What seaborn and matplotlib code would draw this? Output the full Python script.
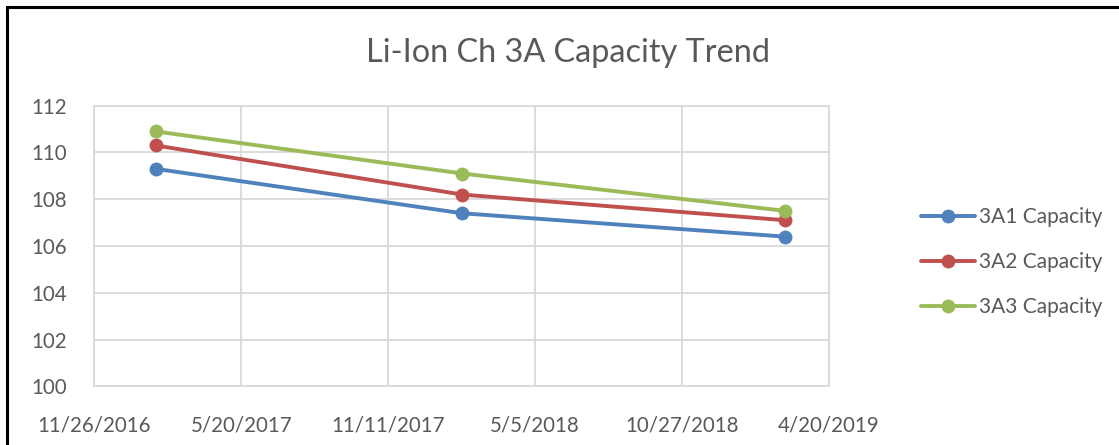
import matplotlib
matplotlib.use('Agg')
import matplotlib.pyplot as plt
from matplotlib.patches import Rectangle
import seaborn as sns
import pandas as pd

# test dates and measured capacity per cell
dates = ['2017-02-07', '2018-02-07', '2019-02-27']
cap_3a1 = [109.3, 107.4, 106.4]
cap_3a2 = [110.3, 108.2, 107.1]
cap_3a3 = [110.9, 109.1, 107.5]
series_names = ['3A1 Capacity', '3A2 Capacity', '3A3 Capacity']
colors = ['#4F81BD', '#C0504D', '#9BBB59']

tick_start = '2016-11-26'
n_ticks = 6
y_ticks = [100, 102, 104, 106, 108, 110, 112]

rows = []
for name, vals in zip(series_names, [cap_3a1, cap_3a2, cap_3a3]):
    for d, v in zip(dates, vals):
        rows.append({'Date': pd.Timestamp(d), 'Capacity': v, 'Series': name})
df = pd.DataFrame(rows)

sns.set_style('white')
plt.rcParams['font.family'] = ['Lato', 'DejaVu Sans']
text_col = '#595959'
grid_col = '#D9D9D9'

fig = plt.figure(figsize=(11.19, 4.45), dpi=100)
ax = fig.add_axes([0.0843, 0.1319, 0.6566, 0.6306])

sns.lineplot(data=df, x='Date', y='Capacity', hue='Series', hue_order=series_names,
             palette=colors, marker='o', markersize=10, markeredgewidth=0,
             linewidth=2.8, ax=ax, legend=True)

xt = pd.date_range(tick_start, periods=n_ticks, freq='175D')
ax.set_xlim(xt[0], xt[-1])
ax.set_xticks(xt)
ax.set_xticklabels([f'{d.month}/{d.day}/{d.year}' for d in xt])
ax.set_ylim(100, 112)
ax.set_yticks(y_ticks)

ax.grid(True, color=grid_col, linewidth=1.3)
ax.set_axisbelow(True)
for s in ax.spines.values():
    s.set_color(grid_col)
    s.set_linewidth(1.3)
ax.tick_params(axis='both', length=0, labelsize=14.8, colors=text_col)
ax.tick_params(axis='x', pad=21)
ax.tick_params(axis='y', pad=20)
ax.set_xlabel('')
ax.set_ylabel('')

fig.text(0.508, 0.88, 'Li-Ion Ch 3A Capacity Trend', ha='center', va='center',
         fontsize=23.3, color=text_col)

leg = ax.legend(loc='center left', bbox_to_anchor=(1.1, 0.443), frameon=False,
                fontsize=15, labelspacing=1.2, handlelength=2.6, handletextpad=0.15)
for t in leg.get_texts():
    t.set_color(text_col)

# chart frame (partly cropped in the original)
fig.patches.append(Rectangle((6.5 / 1119, -0.1), 1.2, 1 - 6.5 / 445 + 0.1,
                             transform=fig.transFigure, fill=False,
                             edgecolor='black', linewidth=2.2))

fig.savefig('out.png', dpi=100)
